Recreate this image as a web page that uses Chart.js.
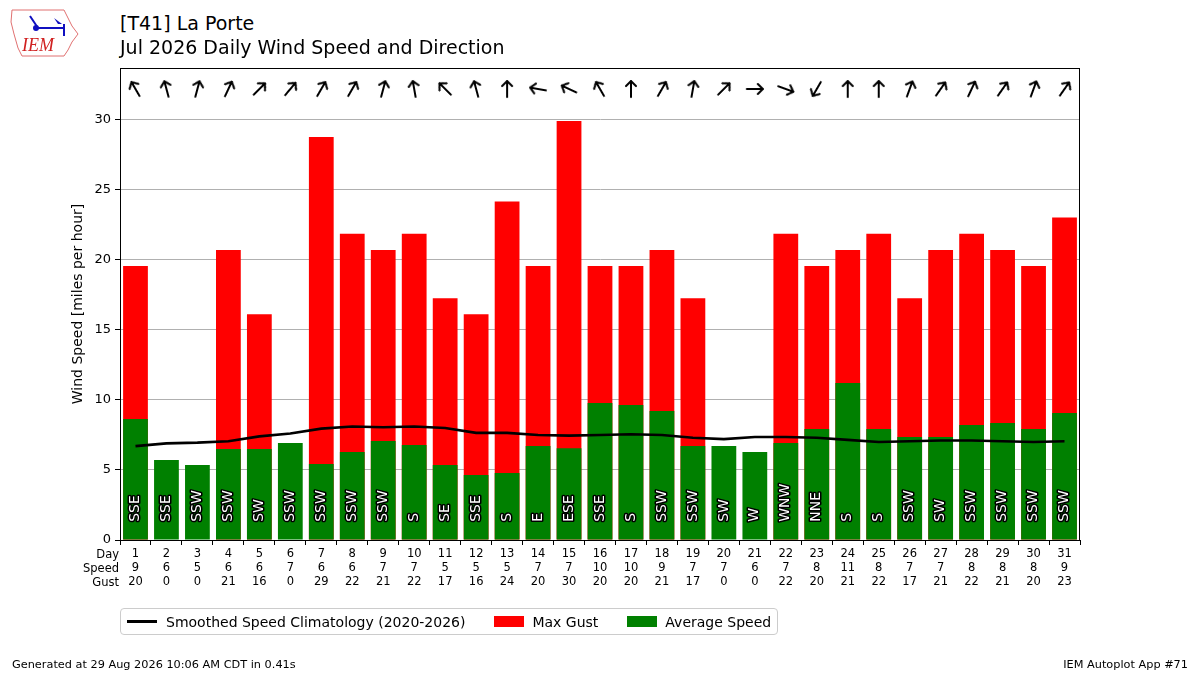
<!DOCTYPE html>
<html>
<head>
<meta charset="utf-8">
<script src="https://cdn.jsdelivr.net/npm/chart.js@4.4.1/dist/chart.umd.min.js"></script>
<style>
  body { margin: 0; width: 1200px; height: 675px; position: relative; background: #fff; overflow: hidden;
         font-family: "DejaVu Sans", sans-serif; color: #000; }
  #chart { position: absolute; left: 0; top: 0; }
  #logo { position: absolute; left: 8px; top: 4px; }
  .title { position: absolute; left: 120px; font-size: 19px; white-space: nowrap; }
  .foot { position: absolute; top: 658px; font-size: 11.3px; white-space: nowrap; }
  #legend { position: absolute; left: 120px; top: 608px; height: 27px; border: 1px solid #ccc; border-radius: 4px;
            display: flex; align-items: center; font-size: 14px; padding: 0 6px; box-sizing: border-box; }
  #legend .item { display: flex; align-items: center; margin-right: 29px; }
  #legend .item:last-child { margin-right: 0; }
  #legend .line { width: 30px; height: 3px; background: #000; margin-right: 9px; }
  #legend .patch { width: 30px; height: 11px; margin-right: 8px; }
</style>
</head>
<body>
<canvas id="logo" width="72" height="56"></canvas>
<div class="title" style="top:12px">[T41] La Porte</div>
<div class="title" style="top:36px">Jul 2026 Daily Wind Speed and Direction</div>
<canvas id="chart" width="1200" height="675"></canvas>
<div id="legend">
  <div class="item"><div class="line"></div>Smoothed Speed Climatology (2020-2026)</div>
  <div class="item"><div class="patch" style="background:#ff0000"></div>Max Gust</div>
  <div class="item"><div class="patch" style="background:#008000"></div>Average Speed</div>
</div>
<div class="foot" style="left:12px">Generated at 29 Aug 2026 10:06 AM CDT in 0.41s</div>
<div class="foot" style="right:12px">IEM Autoplot App #71</div>

<script>
// July 2026, one entry per day
const days = [1, 2, 3, 4, 5, 6, 7, 8, 9, 10, 11, 12, 13, 14, 15, 16,
              17, 18, 19, 20, 21, 22, 23, 24, 25, 26, 27, 28, 29, 30, 31];

const avgSpeed = [8.64, 5.71, 5.36, 6.5, 6.5, 6.93, 5.43, 6.29, 7.07, 6.79, 5.36, 4.64, 4.79, 6.71, 6.55, 9.79,
                  9.64, 9.21, 6.71, 6.71, 6.29, 6.93, 7.93, 11.21, 7.93, 7.36, 7.36, 8.21, 8.36, 7.93, 9.07];

const maxGust = [19.56, 0, 0, 20.71, 16.11, 0, 28.77, 21.86, 20.71, 21.86, 17.26, 16.11, 24.17, 19.56, 29.92, 19.56,
                 19.56, 20.71, 17.26, 0, 0, 21.86, 19.56, 20.71, 21.86, 17.26, 20.71, 21.86, 20.71, 19.56, 23.02];

const climo = [6.7, 6.9, 6.95, 7.05, 7.4, 7.6, 7.95, 8.1, 8.05, 8.1, 8.0, 7.65, 7.65, 7.5, 7.45, 7.5,
               7.55, 7.5, 7.3, 7.2, 7.35, 7.35, 7.3, 7.15, 7.0, 7.05, 7.1, 7.1, 7.05, 7.0, 7.05];

// wind direction (degrees, direction the wind blows from)
const dirDeg = [150, 165, 195, 205, 225, 220, 210, 210, 195, 170, 135, 165, 180, 100, 115, 150,
                180, 210, 190, 225, 270, 290, 30, 180, 180, 200, 215, 205, 215, 200, 215];

const dirText = ['SSE', 'SSE', 'SSW', 'SSW', 'SW', 'SSW', 'SSW', 'SSW', 'SSW', 'S', 'SE', 'SSE', 'S', 'E', 'ESE', 'SSE',
                 'S', 'SSW', 'SSW', 'SW', 'W', 'WNW', 'NNE', 'S', 'S', 'SSW', 'SW', 'SSW', 'SSW', 'SSW', 'SSW'];

const speedLbl = [9, 6, 5, 6, 6, 7, 6, 6, 7, 7, 5, 5, 5, 7, 7, 10, 10, 9, 7, 7, 6, 7, 8, 11, 8, 7, 7, 8, 8, 8, 9];
const gustLbl = [20, 0, 0, 21, 16, 0, 29, 22, 21, 22, 17, 16, 24, 20, 30, 20, 20, 21, 17, 0, 0, 22, 20, 21, 22, 17, 21, 22, 21, 20, 23];

const yTicks = [0, 5, 10, 15, 20, 25, 30];
const rowNames = ['Day', 'Speed', 'Gust'];

const ARROW_ROW = 32.2;
const LABEL_ROW = 1.3;

// little logo
(function () {
  const c = document.getElementById('logo').getContext('2d');
  c.strokeStyle = '#e07070'; c.lineWidth = 1;
  c.beginPath();
  c.moveTo(4, 6); c.lineTo(56, 6); c.lineTo(60, 14); c.lineTo(64, 22); c.lineTo(70, 30);
  c.lineTo(64, 38); c.lineTo(60, 46); c.lineTo(56, 52); c.lineTo(14, 52); c.lineTo(10, 44);
  c.lineTo(6, 30); c.lineTo(3, 18); c.closePath(); c.stroke();
  c.strokeStyle = '#1010c0'; c.fillStyle = '#1010c0'; c.lineWidth = 2;
  c.beginPath(); c.moveTo(22, 12); c.lineTo(30, 24); c.lineTo(56, 24); c.stroke();
  c.beginPath(); c.arc(28, 24, 3, 0, Math.PI * 2); c.fill();
  c.beginPath(); c.moveTo(46, 14); c.lineTo(54, 20); c.lineTo(50, 20); c.closePath(); c.fill();
  c.beginPath(); c.moveTo(56, 20); c.lineTo(56, 32); c.stroke();
  c.fillStyle = '#d02020'; c.font = 'italic 18px "Liberation Serif", serif';
  c.fillText('IEM', 14, 47);
})();

// arrow marker pointing up, rotated per point
const arrowImg = document.createElement('canvas');
arrowImg.width = 22; arrowImg.height = 22;
(function () {
  const c = arrowImg.getContext('2d');
  c.strokeStyle = '#000'; c.lineWidth = 2; c.lineCap = 'round'; c.lineJoin = 'round';
  c.beginPath(); c.moveTo(11, 19); c.lineTo(11, 3); c.stroke();
  c.beginPath(); c.moveTo(6, 8); c.lineTo(11, 3); c.lineTo(16, 8); c.stroke();
})();

const extras = {
  id: 'extras',
  afterDatasetsDraw(chart) {
    const { ctx, scales: { x, y } } = chart;
    ctx.save();
    ctx.font = '14px "DejaVu Sans"';
    ctx.textAlign = 'left';
    ctx.textBaseline = 'middle';
    ctx.lineJoin = 'round';
    dirText.forEach((t, i) => {
      ctx.save();
      ctx.translate(x.getPixelForValue(i), y.getPixelForValue(LABEL_ROW));
      ctx.rotate(-Math.PI / 2);
      ctx.lineWidth = 3; ctx.strokeStyle = '#000';
      ctx.strokeText(t, 0, 0);
      ctx.fillStyle = '#fff';
      ctx.fillText(t, 0, 0);
      ctx.restore();
    });
    ctx.restore();
  },
  afterDraw(chart) {
    const { ctx, chartArea: a, scales: { x } } = chart;
    ctx.save();
    ctx.strokeStyle = '#000'; ctx.lineWidth = 1;
    ctx.strokeRect(a.left + 0.5, a.top + 0.5, a.right - a.left - 1, a.bottom - a.top);
    ctx.fillStyle = '#000';
    ctx.font = '11.5px "DejaVu Sans"';
    ctx.textAlign = 'right';
    ctx.textBaseline = 'middle';
    rowNames.forEach((n, i) => ctx.fillText(n, a.left - 1, x.top + 15 + i * 14));
    ctx.restore();
  }
};

new Chart(document.getElementById('chart'), {
  data: {
    labels: days.map((d, i) => [String(d), String(speedLbl[i]), String(gustLbl[i])]),
    datasets: [
      {
        type: 'line', label: 'Smoothed Speed Climatology (2020-2026)', data: climo,
        borderColor: '#000', borderWidth: 2.6, pointRadius: 0, tension: 0, order: 0
      },
      {
        type: 'line', label: 'Direction', data: days.map(() => ARROW_ROW),
        showLine: false, pointStyle: arrowImg, pointRotation: dirDeg.map(d => (d + 180) % 360),
        pointRadius: 10, order: 0
      },
      {
        type: 'bar', label: 'Average Speed', data: avgSpeed, backgroundColor: '#008000',
        grouped: false, barPercentage: 0.8, categoryPercentage: 1, order: 1
      },
      {
        type: 'bar', label: 'Max Gust', data: maxGust, backgroundColor: '#ff0000',
        grouped: false, barPercentage: 0.8, categoryPercentage: 1, order: 2
      }
    ]
  },
  options: {
    responsive: false,
    devicePixelRatio: 1,
    animation: false,
    layout: { padding: { left: 66, right: 120, top: 68, bottom: 85 } },
    plugins: { legend: { display: false }, tooltip: { enabled: false } },
    scales: {
      x: {
        type: 'category',
        grid: { display: true, drawOnChartArea: false, drawTicks: true, tickLength: 5, tickColor: '#000', color: '#000' },
        border: { display: true, color: '#000' },
        ticks: { color: '#000', font: { family: 'DejaVu Sans', size: 11.5, lineHeight: '14px' }, padding: 2, maxRotation: 0, autoSkip: false },
        afterFit(s) { s.height = 50; }
      },
      y: {
        min: 0, max: 33.7,
        afterBuildTicks(s) { s.ticks = yTicks.map(v => ({ value: v })); },
        grid: { color: '#b0b0b0', lineWidth: 1, tickLength: 5, tickColor: '#000' },
        border: { display: true, color: '#000' },
        ticks: { color: '#000', font: { family: 'DejaVu Sans', size: 13 }, padding: 4 },
        title: { display: true, text: 'Wind Speed [miles per hour]', color: '#000', font: { family: 'DejaVu Sans', size: 14 }, padding: 4 },
        afterFit(s) { s.width = 54; }
      }
    }
  },
  plugins: [extras]
});
</script>
</body>
</html>
